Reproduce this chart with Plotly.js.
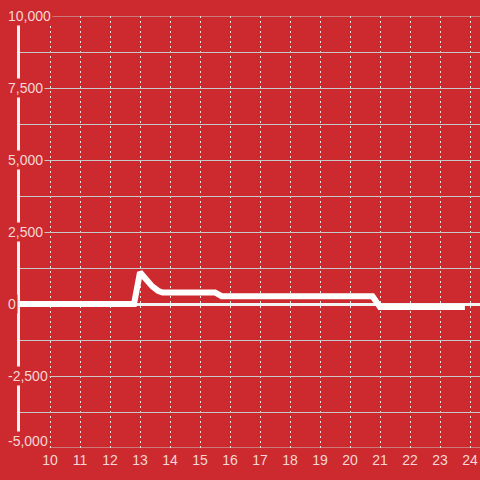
<!DOCTYPE html>
<html>
<head>
<meta charset="utf-8">
<script src="https://cdn.plot.ly/plotly-3.0.1.min.js"></script>
<style>html,body{margin:0;padding:0;background:#cc2a2e;}#chart{width:480px;height:480px;}</style>
</head>
<body>
<div id="chart"></div>
<script>
// Data
const xValues = [9, 12.8, 13.0, 13.2, 13.4, 13.6, 13.75, 15.5, 15.72, 20.75, 21.0, 23.83];
const yValues = [0, 0, 1100, 850, 620, 460, 400, 400, 270, 270, -100, -100];
const xTicks = [10, 11, 12, 13, 14, 15, 16, 17, 18, 19, 20, 21, 22, 23, 24];
const yLabelValues = [10000, 7500, 5000, 2500, 0, -2500, -5000];
const yLabelTexts = ['10,000', '7,500', '5,000', '2,500', '0', '-2,500', '-5,000'];
const yRange = [-5000, 10000];

const bg = '#cc2a2e';
const labelColor = '#f6d6d6';
const gridColor = '#c8c8c8';

const annotations = yLabelValues.map((v, i) => {
  const last = i === yLabelValues.length - 1;
  return {
    xref: 'paper', yref: 'y', x: -14 / 460, y: v,
    xanchor: 'left', yanchor: 'middle', yshift: last ? 7 : 0,
    text: yLabelTexts[i], showarrow: false,
    bgcolor: bg, borderpad: 1,
    font: {family: 'Liberation Sans, Arial, sans-serif', size: 14, color: labelColor}
  };
});

const shapes = yRange.map(v => ({
  type: 'line', xref: 'paper', yref: 'y', x0: 0, x1: 1, y0: v, y1: v,
  line: {color: gridColor, width: 1}, layer: 'below'
}));

Plotly.newPlot('chart', [{
  x: xValues, y: yValues, type: 'scatter', mode: 'lines',
  line: {color: '#ffffff', width: 6},
  hoverinfo: 'none'
}], {
  width: 480, height: 480,
  margin: {l: 20, r: 0, t: 16, b: 32},
  paper_bgcolor: bg, plot_bgcolor: bg,
  showlegend: false,
  xaxis: {
    range: [9, 24.3333], tickvals: xTicks, ticks: '',
    ticklabelstandoff: 2,
    showgrid: true, gridcolor: '#e6e6e6', griddash: '2px,3px', gridwidth: 1,
    zeroline: false, showline: false,
    tickfont: {family: 'Liberation Sans, Arial, sans-serif', size: 14, color: labelColor}
  },
  yaxis: {
    range: yRange, dtick: 1250, tick0: 0, ticks: '',
    showticklabels: false,
    showgrid: true, gridcolor: gridColor, gridwidth: 1,
    zeroline: true, zerolinecolor: '#f2f2f2', zerolinewidth: 3,
    showline: true, linecolor: '#f2f2f2', linewidth: 3
  },
  shapes: shapes,
  annotations: annotations
}, {displayModeBar: false, staticPlot: true});
</script>
</body>
</html>
